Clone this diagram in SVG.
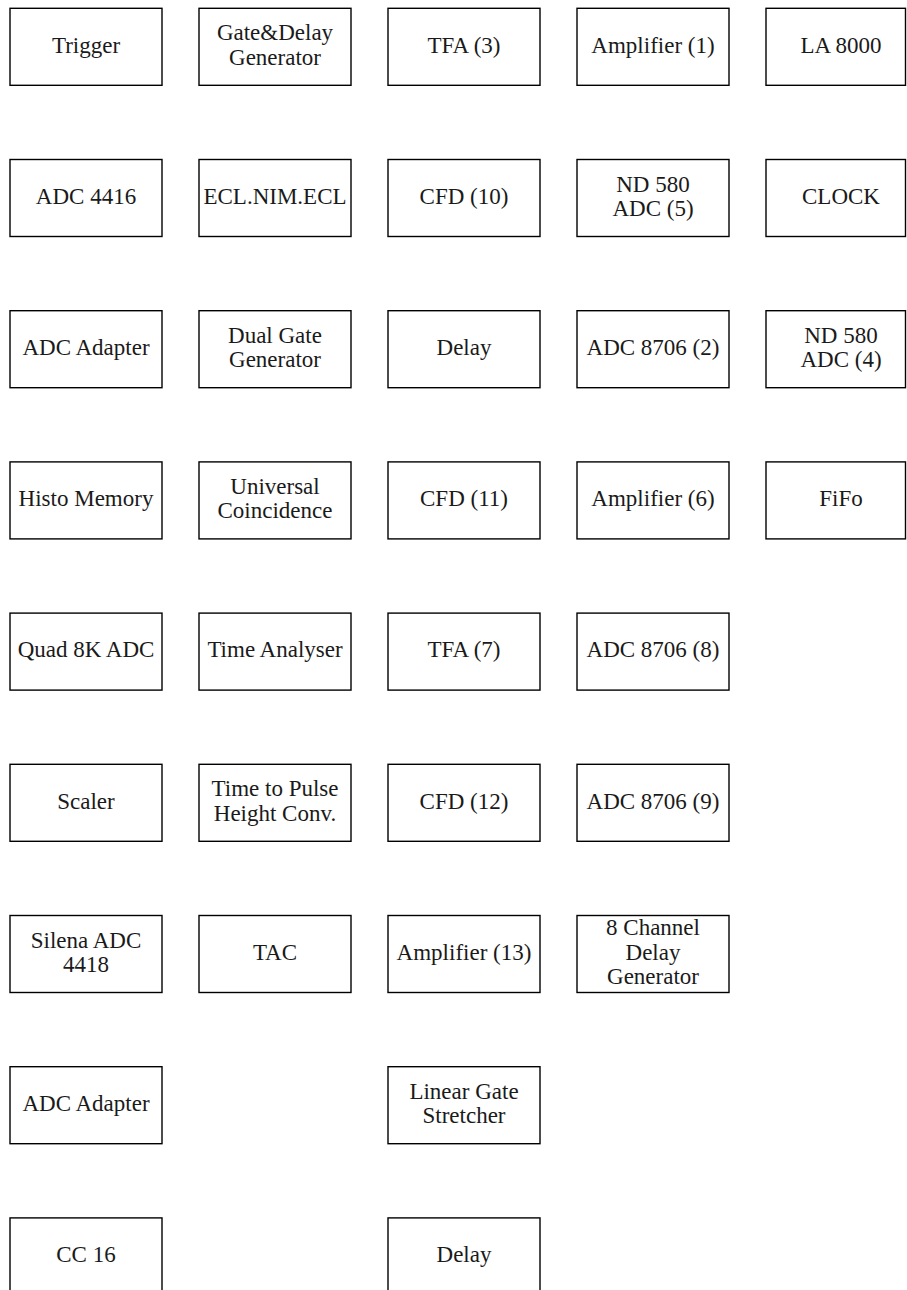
<svg xmlns="http://www.w3.org/2000/svg" width="907" height="1290" viewBox="0 0 907 1290">
<style>
rect{fill:#fff;stroke:#000;stroke-width:1.4}
text{font-family:"Liberation Serif","Times New Roman",serif;font-size:23px;fill:#1a1a1a;text-anchor:middle}
</style>
<rect x="0" y="0" width="907" height="1290" style="stroke:none"/>
<g id="connectors"></g>
<!-- Column 1 -->
<g id="trigger"><rect x="10" y="8.3" width="152" height="77"/><text x="86" y="52.5">Trigger</text></g>
<g id="adc4416"><rect x="10" y="159.5" width="152" height="77"/><text x="86" y="203.7">ADC 4416</text></g>
<g id="adcadapter1"><rect x="10" y="310.7" width="152" height="77"/><text x="86" y="354.9">ADC Adapter</text></g>
<g id="histomemory"><rect x="10" y="461.9" width="152" height="77"/><text x="86" y="506.1">Histo Memory</text></g>
<g id="quad8k"><rect x="10" y="613.1" width="152" height="77"/><text x="86" y="657.3">Quad 8K ADC</text></g>
<g id="scaler"><rect x="10" y="764.3" width="152" height="77"/><text x="86" y="808.5">Scaler</text></g>
<g id="silena"><rect x="10" y="915.5" width="152" height="77"/><text x="86" y="947.5">Silena ADC</text><text x="86" y="971.9">4418</text></g>
<g id="adcadapter2"><rect x="10" y="1066.7" width="152" height="77"/><text x="86" y="1110.9">ADC Adapter</text></g>
<g id="cc16"><rect x="10" y="1217.9" width="152" height="77"/><text x="86" y="1262.1">CC 16</text></g>
<!-- Column 2 -->
<g id="gatedelay"><rect x="199" y="8.3" width="152" height="77"/><text x="275" y="40.3">Gate&amp;Delay</text><text x="275" y="64.7">Generator</text></g>
<g id="eclnimecl"><rect x="199" y="159.5" width="152" height="77"/><text x="275" y="203.7">ECL.NIM.ECL</text></g>
<g id="dualgate"><rect x="199" y="310.7" width="152" height="77"/><text x="275" y="342.7">Dual Gate</text><text x="275" y="367.1">Generator</text></g>
<g id="universal"><rect x="199" y="461.9" width="152" height="77"/><text x="275" y="493.9">Universal</text><text x="275" y="518.3">Coincidence</text></g>
<g id="timeanalyser"><rect x="199" y="613.1" width="152" height="77"/><text x="275" y="657.3">Time Analyser</text></g>
<g id="tphc"><rect x="199" y="764.3" width="152" height="77"/><text x="275" y="796.3">Time to Pulse</text><text x="275" y="820.7">Height Conv.</text></g>
<g id="tac"><rect x="199" y="915.5" width="152" height="77"/><text x="275" y="959.7">TAC</text></g>
<!-- Column 3 -->
<g id="tfa3"><rect x="388" y="8.3" width="152" height="77"/><text x="464" y="52.5">TFA (3)</text></g>
<g id="cfd10"><rect x="388" y="159.5" width="152" height="77"/><text x="464" y="203.7">CFD (10)</text></g>
<g id="delay1"><rect x="388" y="310.7" width="152" height="77"/><text x="464" y="354.9">Delay</text></g>
<g id="cfd11"><rect x="388" y="461.9" width="152" height="77"/><text x="464" y="506.1">CFD (11)</text></g>
<g id="tfa7"><rect x="388" y="613.1" width="152" height="77"/><text x="464" y="657.3">TFA (7)</text></g>
<g id="cfd12"><rect x="388" y="764.3" width="152" height="77"/><text x="464" y="808.5">CFD (12)</text></g>
<g id="amp13"><rect x="388" y="915.5" width="152" height="77"/><text x="464" y="959.7">Amplifier (13)</text></g>
<g id="lgs"><rect x="388" y="1066.7" width="152" height="77"/><text x="464" y="1098.7">Linear Gate</text><text x="464" y="1123.1">Stretcher</text></g>
<g id="delay2"><rect x="388" y="1217.9" width="152" height="77"/><text x="464" y="1262.1">Delay</text></g>
<!-- Column 4 -->
<g id="amp1"><rect x="577" y="8.3" width="152" height="77"/><text x="653" y="52.5">Amplifier (1)</text></g>
<g id="nd580adc5"><rect x="577" y="159.5" width="152" height="77"/><text x="653" y="191.5">ND 580</text><text x="653" y="215.9">ADC (5)</text></g>
<g id="adc8706_2"><rect x="577" y="310.7" width="152" height="77"/><text x="653" y="354.9">ADC 8706 (2)</text></g>
<g id="amp6"><rect x="577" y="461.9" width="152" height="77"/><text x="653" y="506.1">Amplifier (6)</text></g>
<g id="adc8706_8"><rect x="577" y="613.1" width="152" height="77"/><text x="653" y="657.3">ADC 8706 (8)</text></g>
<g id="adc8706_9"><rect x="577" y="764.3" width="152" height="77"/><text x="653" y="808.5">ADC 8706 (9)</text></g>
<g id="delaygen8"><rect x="577" y="915.5" width="152" height="77"/><text x="653" y="935.3">8 Channel</text><text x="653" y="959.7">Delay</text><text x="653" y="984.1">Generator</text></g>
<!-- Column 5 -->
<g id="la8000"><rect x="766" y="8.3" width="139.5" height="77"/><text x="841" y="52.5">LA 8000</text></g>
<g id="clock"><rect x="766" y="159.5" width="139.5" height="77"/><text x="841" y="203.7">CLOCK</text></g>
<g id="nd580adc4"><rect x="766" y="310.7" width="139.5" height="77"/><text x="841" y="342.7">ND 580</text><text x="841" y="367.1">ADC (4)</text></g>
<g id="fifo"><rect x="766" y="461.9" width="139.5" height="77"/><text x="841" y="506.1">FiFo</text></g>
</svg>
